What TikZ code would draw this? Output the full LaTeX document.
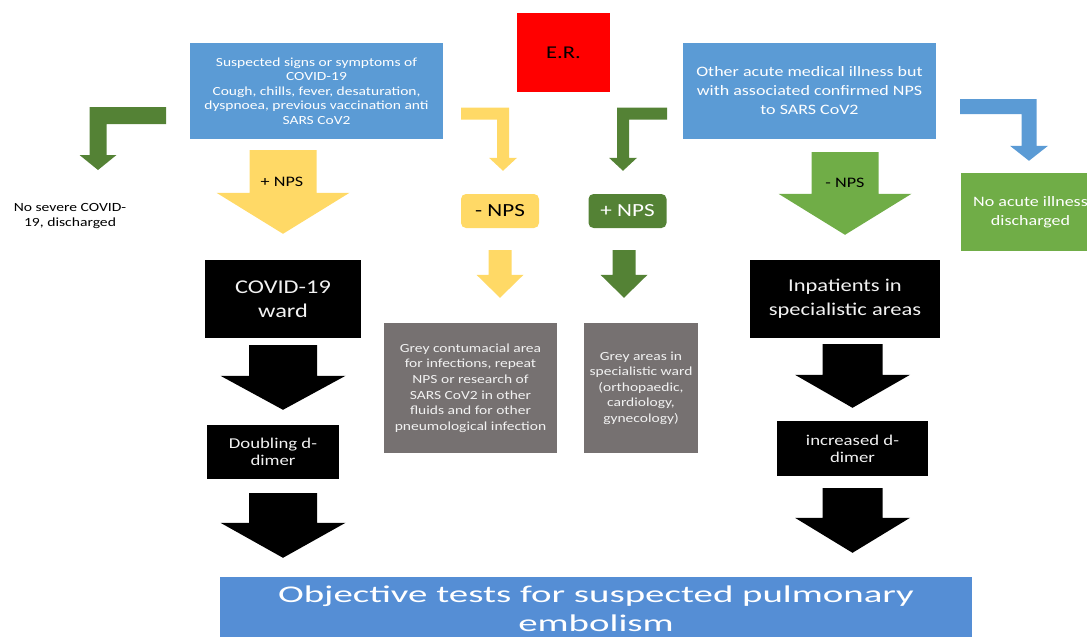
\documentclass[tikz,border=0pt]{standalone}
\usepackage{fontspec}
\setmainfont{Carlito}[FakeStretch=1.25]
\newfontfamily\widefont{Carlito}[FakeStretch=1.62]
\usetikzlibrary{calc}

\definecolor{officeblue}{HTML}{5B9BD5}
\definecolor{testblue}{HTML}{558ED5}
\definecolor{npsyellow}{HTML}{FFD966}
\definecolor{lightgreen}{HTML}{70AD47}
\definecolor{darkgreen}{HTML}{548235}
\definecolor{wardgrey}{HTML}{767171}
\definecolor{paletext}{HTML}{F2F2F2}

% block arrow pointing down: colour, top, tip, half shaft, half head, head length
\newcommand{\fatdown}[6]{%
  \fill[#1] let \p1=#2, \p2=#3 in
    (\x1-#4,\y1) -- (\x1+#4,\y1) -- (\x1+#4,\y2+#6) -- (\x1+#5,\y2+#6)
    -- (\x1,\y2) -- (\x1-#5,\y2+#6) -- (\x1-#4,\y2+#6) -- cycle;}
% bent block arrow: colour, end of bar, tip, half width, half head, head length
\newcommand{\fatbend}[6]{%
  \fill[#1] let \p1=#2, \p2=#3, \n1={sign(\x2-\x1)} in
    (\x1,\y1+#4) -- (\x2+\n1*#4,\y1+#4) -- (\x2+\n1*#4,\y2+#6)
    -- (\x2+\n1*#5,\y2+#6) -- (\x2,\y2) -- (\x2-\n1*#5,\y2+#6)
    -- (\x2-\n1*#4,\y2+#6) -- (\x2-\n1*#4,\y1-#4) -- (\x1,\y1-#4) -- cycle;}

\begin{document}
\begin{tikzpicture}[x=1pt,y=-1pt,
  box/.style={inner sep=2pt,align=center},
  redbox/.style={box,fill=red,text=black,minimum width=93pt,minimum height=79pt,
    font=\fontsize{18}{21}\selectfont},
  bluebox/.style={box,fill=officeblue,text=white,minimum width=253pt,minimum height=96pt},
  npsbox/.style={box,rounded corners=5pt,minimum width=78pt,minimum height=34pt,
    font=\fontsize{18.5}{21}\selectfont},
  greybox/.style={box,fill=wardgrey,text=paletext,minimum height=130pt,
    font=\fontsize{12.4}{15.6}\selectfont},
  blackbox/.style={box,fill=black,text=paletext},
  arrowlabel/.style={font=\fontsize{14.5}{17}\selectfont}]

  \useasboundingbox (0,0) rectangle (1087,637);

  \node[redbox] (er) at (563.5,52.5) {E.R.};
  \node[bluebox,font=\fontsize{12.4}{14.5}\selectfont] (susp) at (316.5,91)
    {Suspected signs or symptoms of\\COVID-19\\Cough, chills, fever, desaturation,\\
     dyspnoea, previous vaccination anti\\SARS CoV2};
  \node[bluebox,font=\fontsize{14.4}{19}\selectfont] (other) at (809.5,91)
    {Other acute medical illness but\\with associated confirmed NPS\\to SARS CoV2};

  \node[box,font=\fontsize{12.5}{15}\selectfont] (nosev) at (70,216)
    {No severe COVID-\\19, discharged};
  \node[npsbox,fill=npsyellow,text=black] (minusnps) at (500,211) {- NPS};
  \node[npsbox,fill=darkgreen,text=white] (plusnps) at (627.5,211) {+ NPS};
  \node[box,fill=lightgreen,text=white,minimum width=139pt,minimum height=78pt,
    font=\fontsize{14.4}{19}\selectfont] (noacute) at (1030.5,212)
    {No acute illness\\discharged};

  \node[greybox,minimum width=173pt] (grey1) at (470.5,388)
    {Grey contumacial area\\for infections, repeat\\NPS or research of\\
     SARS CoV2 in other\\fluids and for other\\pneumological infection};
  \node[greybox,minimum width=114pt] (grey2) at (641,388)
    {Grey areas in\\specialistic ward\\(orthopaedic,\\cardiology,\\gynecology)};

  \node[blackbox,minimum width=156pt,minimum height=78pt,
    font=\fontsize{19.5}{24}\selectfont] (ward) at (283,299) {COVID-19\\ward};
  \node[blackbox,minimum width=132pt,minimum height=54pt,
    font=\fontsize{15}{17}\selectfont] (dbl) at (273,452) {Doubling d-\\dimer};
  \node[blackbox,minimum width=190pt,minimum height=78pt,
    font=\fontsize{18}{24}\selectfont] (inpat) at (845,299)
    {Inpatients in\\specialistic areas};
  \node[blackbox,minimum width=151pt,minimum height=55pt,
    font=\fontsize{15}{17}\selectfont] (incr) at (852.5,448.5) {increased d-\\dimer};

  \node[box,fill=testblue,text=white,minimum width=752pt,minimum height=63pt,
    font=\fontsize{24}{29}\widefont] (tests) at (596,608.5)
    {Objective tests for suspected pulmonary\\embolism};

  % bent arrows from the top row
  \coordinate (lbar) at (166,115.5);
  \coordinate (ltip) at (98,170);
  \coordinate (ybar) at (461,113.5);
  \coordinate (gbar) at (667,113.5);
  \coordinate (bbar) at (960,106.5);
  \fatbend{darkgreen}{(lbar)}{(ltip)}{8.5pt}{18.5pt}{15pt}
  \fatbend{npsyellow}{(ybar)}{($(minusnps.north)+(3,-23)$)}{6pt}{14pt}{13pt}
  \fatbend{darkgreen}{(gbar)}{($(plusnps.north)+(-4.5,-23)$)}{6pt}{14pt}{13pt}
  \fatbend{officeblue}{(bbar)}{($(noacute.north)+(-1.5,-12)$)}{7.5pt}{19pt}{15pt}

  % straight block arrows
  \fatdown{npsyellow}{($(ward.north |- susp.south)+(0,11)$)}{($(ward.north)+(0,-26)$)}{33.5pt}{66.5pt}{41pt}
  \fatdown{lightgreen}{($(inpat.north |- other.south)+(0,13)$)}{($(inpat.north)+(0,-25)$)}{33.5pt}{66.5pt}{41pt}
  \fatdown{npsyellow}{($(minusnps.south)+(0,22)$)}{($(minusnps.south |- grey1.north)+(0,-25)$)}{11.5pt}{23.5pt}{23pt}
  \fatdown{darkgreen}{($(plusnps.south)+(-3.5,22)$)}{($(plusnps.south |- grey2.north)+(0,-25)$)}{11.5pt}{23.5pt}{23pt}
  \fatdown{black}{($(ward.south)+(0,7)$)}{($(ward.south |- dbl.north)+(0,-15)$)}{34pt}{62.5pt}{34pt}
  \fatdown{black}{($(ward.south |- dbl.south)+(0,14)$)}{($(ward.south |- tests.north)+(0,-19)$)}{34pt}{62.5pt}{35pt}
  \fatdown{black}{($(incr.north |- inpat.south)+(0,6)$)}{($(incr.north)+(0,-13)$)}{30pt}{57.5pt}{33pt}
  \fatdown{black}{($(incr.south)+(0,12)$)}{($(incr.south |- tests.north)+(0,-24)$)}{30pt}{57.5pt}{35pt}

  \node[arrowlabel] (pluslbl) at (282,182) {+ NPS};
  \node[arrowlabel] (minuslbl) at (845,183) {- NPS};
\end{tikzpicture}
\end{document}
